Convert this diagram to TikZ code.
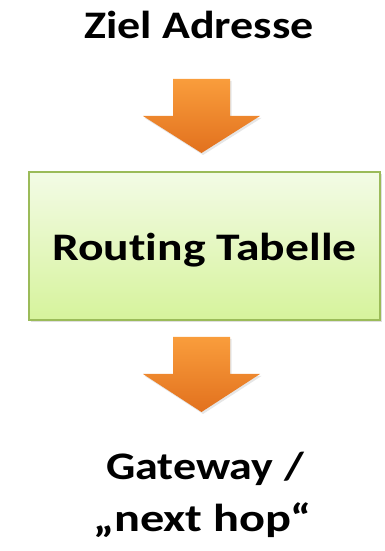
\documentclass[tikz,border=0pt]{standalone}
\usepackage{fontspec}
\setmainfont{Carlito}[Ligatures=CommonOff]
\usepackage{tikz}
\usetikzlibrary{positioning, calc, shadows}
\definecolor{arrow_top}{HTML}{F99D3C}
\definecolor{arrow_bot}{HTML}{E2711E}
\definecolor{box_top}{HTML}{F3FBE6}
\definecolor{box_bot}{HTML}{D6F39C}
\definecolor{box_line}{HTML}{9BBB59}
\tikzset{
	label_text/.style={font=\bfseries\fontsize{39}{46}\selectfont, inner sep=0pt, xscale=1.18},
	table_box/.style={rectangle, draw=box_line, line width=1.5pt, top color=box_top, bottom color=box_bot, minimum width=351pt, minimum height=148pt, text height=30pt, text depth=0pt, font=\bfseries\fontsize{39}{46}\selectfont, drop shadow={opacity=0.25, shadow xshift=2pt, shadow yshift=-2pt}},
	flow_arrow/.style={draw=none, top color=arrow_top, bottom color=arrow_bot, drop shadow={opacity=0.2, shadow xshift=1.5pt, shadow yshift=-2pt}}
}
\begin{document}
\begin{tikzpicture}[x=1pt, y=1pt]
	\useasboundingbox (0,0) rectangle (385,551);
	\node[label_text, anchor=base] (ziel) at (199,512) {Ziel Adresse};
	\node[table_box] (routing) at (204.5,305) {\scalebox{1.22}[1]{Routing Tabelle}};
	\node[label_text, anchor=base] (gateway) at (205,71) {Gateway /};
	\node[label_text, anchor=base, xscale=1.05] (nexthop) at ($(gateway.base)+(-2.5,-52)$) {„next hop“};
	% block arrows between the texts and the table
	\coordinate (arrow_in) at (201.5,472);
	\coordinate (arrow_out) at (201.5,214);
	\path[flow_arrow] (arrow_in) ++(-28.5,0) -- ++(57,0) -- ++(0,-37) -- ++(30,0) -- ++(-58.5,-37) -- ++(-58.5,37) -- ++(30,0) -- cycle;
	\path[flow_arrow] (arrow_out) ++(-28.5,0) -- ++(57,0) -- ++(0,-37) -- ++(30,0) -- ++(-58.5,-38) -- ++(-58.5,38) -- ++(30,0) -- cycle;
\end{tikzpicture}
\end{document}
